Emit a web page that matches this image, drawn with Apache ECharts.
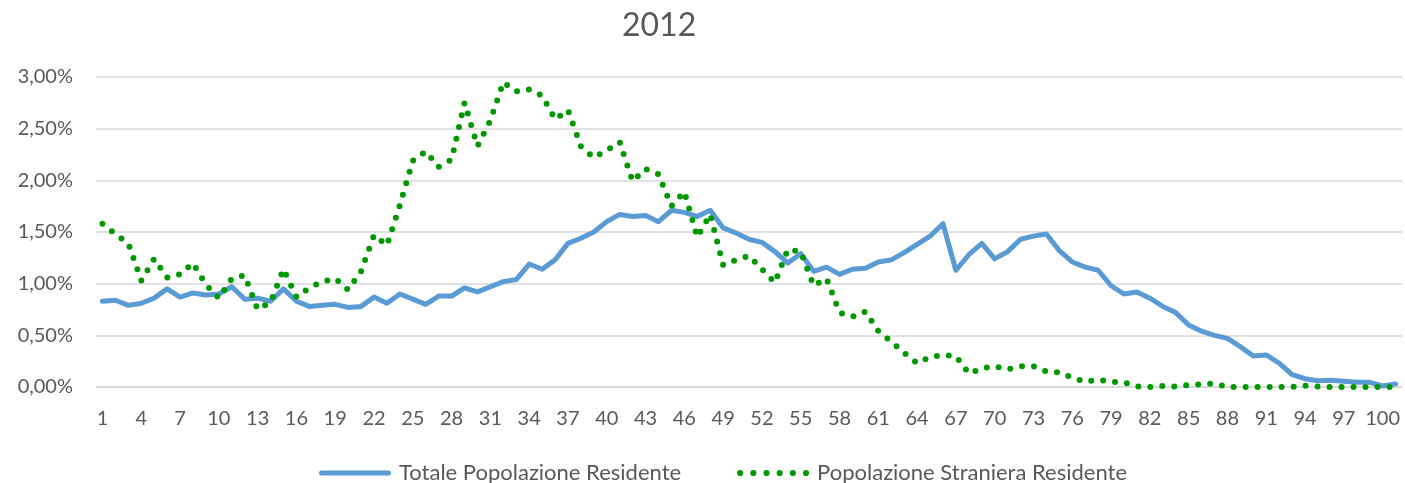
<!DOCTYPE html>
<html>
<head>
    <meta charset="utf-8">
    <title>2012</title>
    <script src="https://cdn.jsdelivr.net/npm/echarts@6.0.0/dist/echarts.min.js"></script>
    <style>
        body { margin: 0; background: #fff; }
    </style>
</head>
<body>
    <div id="main" style="width: 1405px;height:483px;"></div>
    <script type="text/javascript">
        // eta' 1..101
        var ages = [1, 2, 3, 4, 5, 6, 7, 8, 9, 10, 11, 12, 13, 14, 15, 16, 17, 18, 19, 20,
            21, 22, 23, 24, 25, 26, 27, 28, 29, 30, 31, 32, 33, 34, 35, 36, 37, 38, 39, 40,
            41, 42, 43, 44, 45, 46, 47, 48, 49, 50, 51, 52, 53, 54, 55, 56, 57, 58, 59, 60,
            61, 62, 63, 64, 65, 66, 67, 68, 69, 70, 71, 72, 73, 74, 75, 76, 77, 78, 79, 80,
            81, 82, 83, 84, 85, 86, 87, 88, 89, 90, 91, 92, 93, 94, 95, 96, 97, 98, 99, 100, 101]

        // valori in %
        var totale = [0.83, 0.84, 0.79, 0.81, 0.86, 0.95, 0.87, 0.91, 0.89, 0.90,
            0.97, 0.85, 0.86, 0.83, 0.95, 0.83, 0.78, 0.79, 0.80, 0.77,
            0.78, 0.87, 0.81, 0.90, 0.85, 0.80, 0.88, 0.88, 0.96, 0.92,
            0.97, 1.02, 1.04, 1.19, 1.14, 1.23, 1.39, 1.44, 1.50, 1.60,
            1.67, 1.65, 1.66, 1.60, 1.71, 1.69, 1.65, 1.71, 1.54, 1.49,
            1.43, 1.40, 1.31, 1.20, 1.29, 1.12, 1.16, 1.09, 1.14, 1.15,
            1.21, 1.23, 1.30, 1.38, 1.46, 1.58, 1.13, 1.28, 1.39, 1.24,
            1.31, 1.43, 1.46, 1.48, 1.32, 1.21, 1.16, 1.13, 0.98, 0.90,
            0.92, 0.86, 0.78, 0.72, 0.60, 0.54, 0.50, 0.47, 0.39, 0.30,
            0.31, 0.23, 0.12, 0.08, 0.06, 0.065, 0.055, 0.045, 0.045, 0.01, 0.03]

        var straniera = [1.58, 1.48, 1.39, 1.03, 1.24, 1.06, 1.09, 1.20, 0.99, 0.86,
            1.05, 1.08, 0.75, 0.82, 1.14, 0.87, 0.96, 1.02, 1.05, 0.94,
            1.12, 1.47, 1.37, 1.76, 2.19, 2.28, 2.13, 2.20, 2.75, 2.33,
            2.58, 2.95, 2.86, 2.88, 2.82, 2.59, 2.68, 2.33, 2.22, 2.29,
            2.37, 1.99, 2.11, 2.06, 1.75, 1.89, 1.45, 1.67, 1.18, 1.23,
            1.27, 1.14, 1.01, 1.33, 1.31, 0.98, 1.05, 0.72, 0.68, 0.73,
            0.54, 0.44, 0.33, 0.23, 0.29, 0.31, 0.30, 0.13, 0.18, 0.20,
            0.17, 0.20, 0.20, 0.15, 0.14, 0.09, 0.05, 0.07, 0.05, 0.045,
            0.005, 0, 0.01, 0.005, 0.02, 0.025, 0.035, 0, 0, 0,
            0, 0, 0, 0.012, 0.005, 0, 0, 0, 0, 0, 0]

        var seriesNames = ['Totale Popolazione Residente', 'Popolazione Straniera Residente']

        // icone legenda: linea piena e sei puntini
        var iconLine = 'path://M2.5,0 H69.5 A2.5,2.5 0 0 1 69.5,5 H2.5 A2.5,2.5 0 0 1 2.5,0 Z'
        var dots = ''
        for (var k = 0; k < 6; k++) {
            var cx = 3 + k * 12.8
            dots += 'M' + (cx - 3) + ',3 A3,3 0 1 0 ' + (cx + 3) + ',3 A3,3 0 1 0 ' + (cx - 3) + ',3 Z '
        }
        var iconDots = 'path://' + dots

        var myChart = echarts.init(document.getElementById('main'))
        var font = 'Lato'
        var option = {
            animation: false,
            title: {
                text: '2012',
                left: 617,
                top: 5,
                textStyle: { fontFamily: font, fontSize: 32, fontWeight: 'normal', color: '#595959' }
            },
            legend: {
                left: 314,
                top: 457,
                itemWidth: 72,
                itemHeight: 24,
                itemGap: 56,
                textStyle: { fontFamily: font, fontSize: 22, color: '#595959', padding: [0, 0, 0, 3] },
                data: [
                    { name: seriesNames[0], icon: iconLine },
                    { name: seriesNames[1], icon: iconDots }
                ]
            },
            grid: {
                left: 96,
                right: 3,
                top: 77,
                bottom: 96
            },
            xAxis: {
                type: 'category',
                data: ages,
                boundaryGap: true,
                axisTick: { show: false },
                axisLine: { lineStyle: { color: '#d9d9d9', width: 1.5 } },
                axisLabel: {
                    interval: 2,
                    margin: 22,
                    fontFamily: font,
                    fontSize: 20,
                    color: '#595959'
                }
            },
            yAxis: {
                type: 'value',
                min: 0,
                max: 3,
                interval: 0.5,
                axisLine: { show: false },
                axisTick: { show: false },
                splitLine: { lineStyle: { color: '#d9d9d9', width: 1.5 } },
                axisLabel: {
                    margin: 23,
                    fontFamily: font,
                    fontSize: 20,
                    color: '#595959',
                    formatter: function (v) { return v.toFixed(2).replace('.', ',') + '%' }
                }
            },
            series: [
                {
                    name: seriesNames[0],
                    type: 'line',
                    data: totale,
                    showSymbol: false,
                    symbol: 'none',
                    itemStyle: { color: '#5b9bd5' },
                    lineStyle: { color: '#5b9bd5', width: 5, join: 'round', cap: 'round' }
                },
                {
                    name: seriesNames[1],
                    type: 'line',
                    data: straniera,
                    showSymbol: false,
                    symbol: 'none',
                    itemStyle: { color: '#009a00' },
                    lineStyle: { color: '#009a00', width: 6, type: [0, 12], cap: 'round', join: 'round' }
                }
            ]
        };
        myChart.setOption(option);
    </script>
</body>
</html>
